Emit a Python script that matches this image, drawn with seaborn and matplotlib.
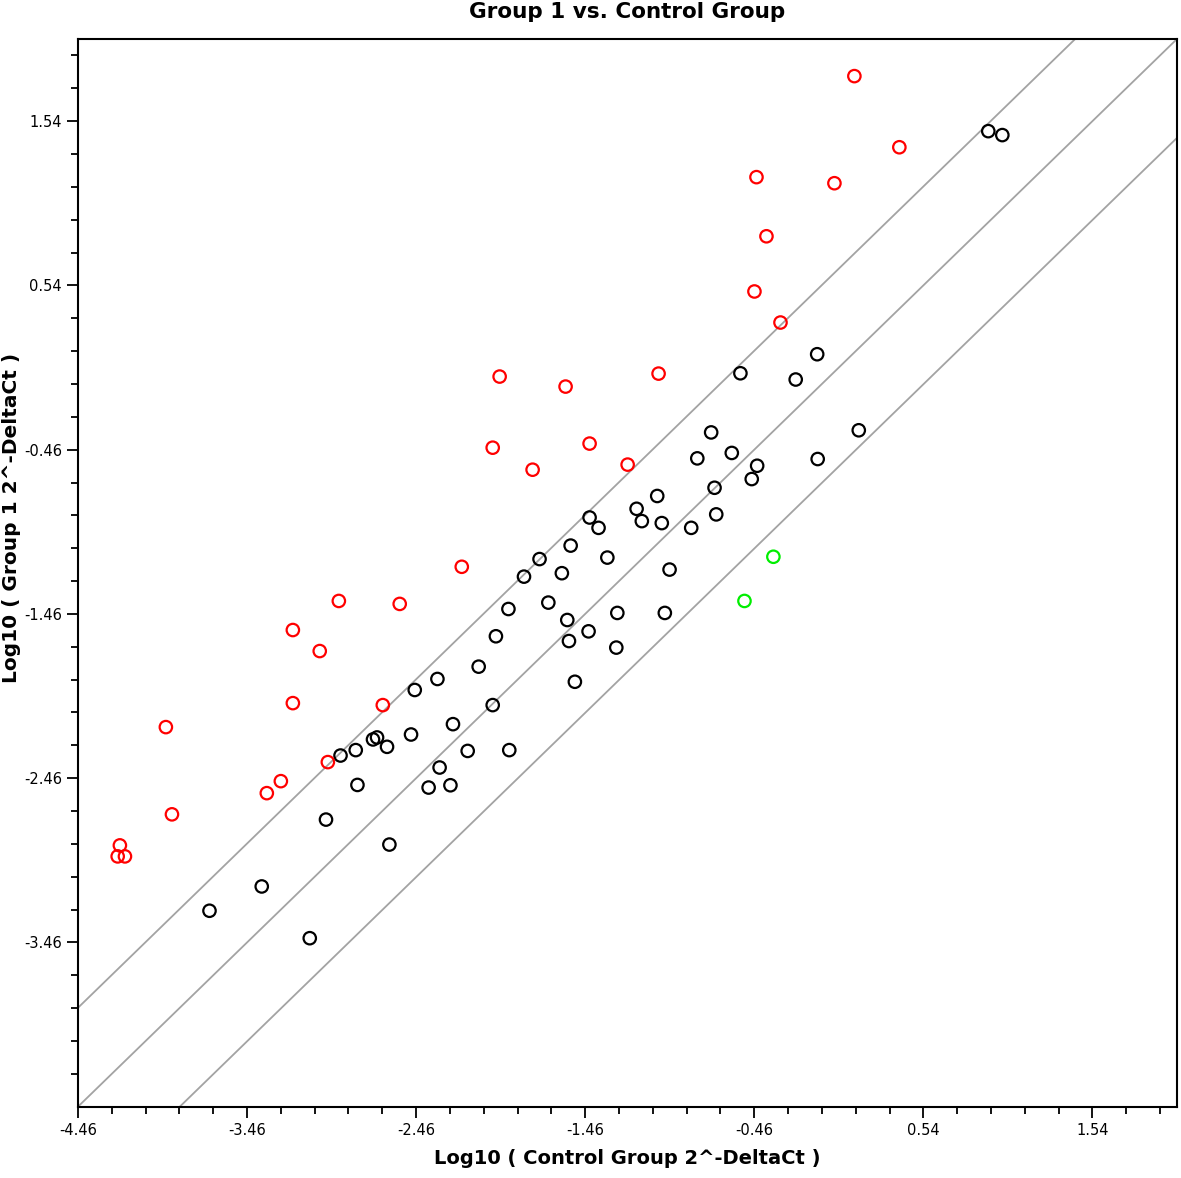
import numpy as np
import pandas as pd
from matplotlib import pyplot as plt
import seaborn as sns

# log10(2^-dCt) values
# genes up-regulated in group 1 (red)
up_ctrl = [0.132, 0.398, -0.447, 0.014, -0.388, -0.459, -0.305, -1.026, -1.966, -1.576,
           -2.007, -1.434, -1.771, -1.209, -2.190, -2.917, -2.557, -3.189, -3.030, -3.189,
           -2.657, -3.940, -2.982, -3.260, -3.343, -3.904, -4.212, -4.225, -4.182]
up_grp = [1.814, 1.381, 1.199, 1.162, 0.839, 0.503, 0.314, 0.003, -0.015, -0.076,
          -0.448, -0.423, -0.582, -0.551, -1.173, -1.381, -1.399, -1.558, -1.686, -2.003,
          -2.015, -2.149, -2.362, -2.478, -2.551, -2.680, -2.869, -2.936, -2.936]

# down-regulated (green)
down_ctrl = [-0.347, -0.518]
down_grp = [-1.112, -1.381]

# unchanged (black)
ns_ctrl = [0.924, 1.007, -0.542, -0.088, -0.215, -0.715, -0.797, -0.593, -0.443, -0.475,
           -0.695, 0.158, -0.085, -1.034, -1.156, -1.125, -1.007, -1.434, -1.381, -0.685,
           -0.833, -1.546, -1.329, -1.730, -1.822, -1.598, -0.961, -1.914, -1.678, -1.566,
           -1.270, -0.989, -1.988, -1.440, -1.556, -1.276, -2.090, -2.334, -1.521, -2.468,
           -2.007, -2.242, -2.490, -2.715, -2.691, -2.632, -2.817, -2.907, -2.155, -1.909,
           -2.321, -2.807, -2.386, -2.257, -2.993, -2.618, -3.373, -3.682, -3.089]
ns_grp = [1.479, 1.455, 0.005, 0.121, -0.033, -0.355, -0.513, -0.480, -0.558, -0.639,
          -0.692, -0.342, -0.517, -0.742, -0.820, -0.895, -0.907, -0.873, -0.936, -0.854,
          -0.936, -1.044, -1.117, -1.126, -1.233, -1.212, -1.190, -1.430, -1.391, -1.497,
          -1.454, -1.454, -1.596, -1.566, -1.625, -1.665, -1.781, -1.856, -1.873, -1.923,
          -2.015, -2.131, -2.194, -2.224, -2.212, -2.269, -2.289, -2.322, -2.294, -2.289,
          -2.395, -2.501, -2.517, -2.503, -2.712, -2.864, -3.119, -3.267, -3.434]

fold_cutoff = 4
lo, hi = -4.46, 2.04
x_ticks = [-4.46, -3.46, -2.46, -1.46, -0.46, 0.54, 1.54]
y_ticks = [-3.46, -2.46, -1.46, -0.46, 0.54, 1.54]

sns.set_style("white")
plt.rcParams['font.family'] = ['DejaVu Sans']
plt.rcParams['axes.unicode_minus'] = False
plt.rcParams['text.color'] = 'black'
plt.rcParams['axes.labelcolor'] = 'black'
plt.rcParams['xtick.color'] = 'black'
plt.rcParams['ytick.color'] = 'black'

fig = plt.figure(figsize=(11.81, 11.78), dpi=100)
ax = fig.add_axes([0.066, 0.0605, 0.9306, 0.9064])

# fold-change boundaries
off = np.log10(fold_cutoff)
for d in (off, 0, -off):
    ax.axline((0, d), slope=1, color="#a3a3a3", lw=1.3, zorder=1)

sns.scatterplot(x=ns_ctrl, y=ns_grp, ax=ax, s=80, facecolor="none",
                edgecolor="black", linewidth=1.6, zorder=3)
sns.scatterplot(x=up_ctrl, y=up_grp, ax=ax, s=80, facecolor="none",
                edgecolor="#ff0000", linewidth=1.6, zorder=3)
sns.scatterplot(x=down_ctrl, y=down_grp, ax=ax, s=80, facecolor="none",
                edgecolor="#00ee00", linewidth=1.6, zorder=3)

ax.set_xlim(lo, hi)
ax.set_ylim(lo, hi)
ax.set_xticks(x_ticks)
ax.set_yticks(y_ticks)
ax.set_xticklabels([f"{t:.2f}" for t in x_ticks])
ax.set_yticklabels([f"{t:.2f}" for t in y_ticks])
ax.set_xticks(np.arange(lo, hi, 0.2), minor=True)
ax.set_yticks(np.arange(lo + 0.2, hi, 0.2), minor=True)
ax.tick_params(which="both", direction="out", bottom=True, left=True,
               top=False, right=False, width=1.3, labelsize=10.5)
ax.tick_params(which="major", length=8)
ax.tick_params(which="minor", length=5)

for sp in ax.spines.values():
    sp.set_color("black")
    sp.set_linewidth(1.5)

ax.set_title("Group 1 vs. Control Group", fontsize=15.5, fontweight="bold", pad=15)
ax.set_xlabel("Log10 ( Control Group 2^-DeltaCt )", fontsize=14, fontweight="bold", labelpad=8)
ax.set_ylabel("Log10 ( Group 1 2^-DeltaCt )", fontsize=14.5, fontweight="bold")
ax.yaxis.set_label_coords(-0.0515, 0.551)

fig.savefig("out.png", dpi=100)
